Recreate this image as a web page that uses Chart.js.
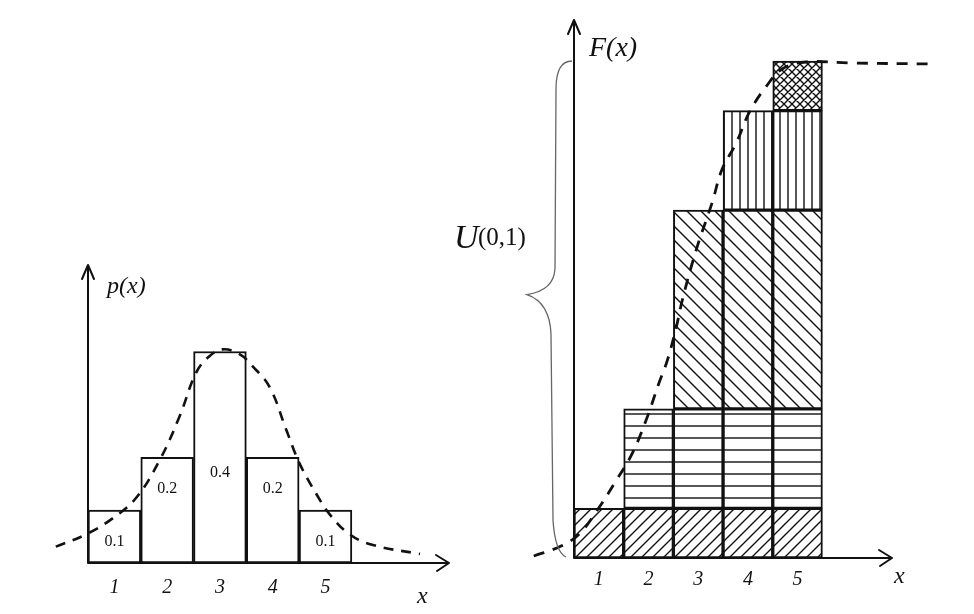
<!DOCTYPE html>
<html>
<head>
<meta charset="utf-8">
<title>p(x) and F(x) sketch</title>
<script src="https://cdn.jsdelivr.net/npm/chart.js@4.4.1/dist/chart.umd.min.js"></script>
<style>
  html, body { margin: 0; padding: 0; background: #fff; }
  #wrap { position: relative; width: 974px; height: 614px; }
  #wrap canvas { position: absolute; left: 0; top: 0; }
</style>
</head>
<body>
<div id="wrap">
  <canvas id="pdf" width="974" height="614"></canvas>
  <canvas id="cdf" width="974" height="614"></canvas>
</div>
<script>
  /* ---------- data ---------- */

  const xValues = [1, 2, 3, 4, 5];
  const tickLabels = ['1', '2', '3', '4', '5'];
  const probs = [0.1, 0.2, 0.4, 0.2, 0.1];
  const probLabels = ['0.1', '0.2', '0.4', '0.2', '0.1'];

  // dashed density curve over the bars (left)
  const pdfCurveX = [-0.11, 0.46, 0.96, 1.41, 1.85, 2.23, 2.55, 2.80, 3.05, 3.37, 3.62, 3.94, 4.26, 4.51, 4.83, 5.08, 5.46, 5.90, 6.79];
  const pdfCurveY = [0.031, 0.054, 0.084, 0.123, 0.193, 0.276, 0.360, 0.391, 0.404, 0.395, 0.372, 0.333, 0.251, 0.188, 0.130, 0.092, 0.054, 0.034, 0.017];

  // dashed distribution curve over the stacked steps (right)
  const cdfCurveX = [-0.31, 0.24, 0.60, 0.96, 1.35, 1.67, 1.95, 2.21, 2.38, 2.56, 2.68, 2.96, 3.28, 3.48, 3.77, 4.03, 4.37, 4.69, 5.18, 6.04, 7.72];
  const cdfCurveY = [0.004, 0.024, 0.048, 0.095, 0.156, 0.210, 0.277, 0.352, 0.398, 0.465, 0.519, 0.620, 0.715, 0.782, 0.836, 0.897, 0.949, 0.984, 0.998, 0.996, 0.994];

  /* ---------- helpers ---------- */

  const INK = '#111';
  const HAND = "'Liberation Serif', 'DejaVu Serif', serif";

  function toPoints(xs, ys) {
    return xs.map((x, i) => ({ x: x, y: ys[i] }));
  }

  function hatch(kind, size) {
    const c = document.createElement('canvas');
    c.width = size;
    c.height = size;
    const g = c.getContext('2d');
    g.fillStyle = '#fff';
    g.fillRect(0, 0, size, size);
    g.strokeStyle = INK;
    g.lineWidth = 1.4;
    g.beginPath();
    if (kind === 'h') { g.moveTo(0, size / 2); g.lineTo(size, size / 2); }
    if (kind === 'v') { g.moveTo(size / 2, 0); g.lineTo(size / 2, size); }
    if (kind === '/' || kind === 'x') {
      g.moveTo(-1, size + 1); g.lineTo(size + 1, -1);
      g.moveTo(-1, 1); g.lineTo(1, -1);
      g.moveTo(size - 1, size + 1); g.lineTo(size + 1, size - 1);
    }
    if (kind === '\\' || kind === 'x') {
      g.moveTo(-1, -1); g.lineTo(size + 1, size + 1);
      g.moveTo(size - 1, -1); g.lineTo(size + 1, 1);
      g.moveTo(-1, size - 1); g.lineTo(1, size + 1);
    }
    g.stroke();
    return g.createPattern(c, 'repeat');
  }

  // one fill per step of F(x): bottom to top
  const layerFills = [hatch('/', 11), hatch('h', 12), hatch('\\', 14), hatch('v', 8), hatch('x', 8)];

  /* ---------- plugin: hand-drawn axes, arrows and labels ---------- */

  const sketchAxes = {
    id: 'sketchAxes',
    afterDatasetsDraw(chart, args, opts) {
      const ctx = chart.ctx;
      const a = chart.chartArea;
      ctx.save();
      ctx.strokeStyle = INK;
      ctx.lineWidth = 2;
      ctx.lineCap = 'round';
      ctx.lineJoin = 'round';
      ctx.beginPath();
      ctx.moveTo(a.left, a.bottom); ctx.lineTo(a.right, a.bottom);
      ctx.moveTo(a.left, a.bottom); ctx.lineTo(a.left, a.top);
      ctx.moveTo(a.right - 13, a.bottom - 8); ctx.lineTo(a.right, a.bottom); ctx.lineTo(a.right - 12, a.bottom + 8);
      ctx.moveTo(a.left - 6, a.top + 14); ctx.lineTo(a.left, a.top); ctx.lineTo(a.left + 6, a.top + 14);
      ctx.stroke();

      ctx.fillStyle = INK;
      ctx.textBaseline = 'alphabetic';
      ctx.font = 'italic ' + opts.yFont + 'px ' + HAND;
      ctx.fillText(opts.yTitle, a.left + opts.yDx, a.top + opts.yDy);
      ctx.font = 'italic 24px ' + HAND;
      ctx.fillText('x', a.right + opts.xDx, a.bottom + opts.xDy);
      ctx.restore();
    }
  };

  /* ---------- plugin: value written inside each bar ---------- */

  const barValues = {
    id: 'barValues',
    afterDatasetsDraw(chart) {
      const meta = chart.getDatasetMeta(1);
      const yScale = chart.scales.y;
      const ctx = chart.ctx;
      ctx.save();
      ctx.fillStyle = INK;
      ctx.font = '16px ' + HAND;
      ctx.textAlign = 'center';
      ctx.textBaseline = 'middle';
      meta.data.forEach((bar, i) => {
        const v = Math.min(probs[i] - 0.06, 0.17);
        ctx.fillText(probLabels[i], bar.x, yScale.getPixelForValue(v));
      });
      ctx.restore();
    }
  };

  /* ---------- plugin: brace marking U(0,1) on the F(x) axis ---------- */

  const uniformBrace = {
    id: 'uniformBrace',
    afterDatasetsDraw(chart) {
      const ctx = chart.ctx;
      const y = chart.scales.y;
      const L = chart.chartArea.left;
      const top = y.getPixelForValue(1);
      const bot = y.getPixelForValue(0);
      const tip = y.getPixelForValue(0.53);
      ctx.save();
      ctx.strokeStyle = '#666';
      ctx.lineWidth = 1.3;
      ctx.beginPath();
      ctx.moveTo(L - 2, top);
      ctx.quadraticCurveTo(L - 18, top, L - 18, top + 28);
      ctx.lineTo(L - 19, tip - 26);
      ctx.quadraticCurveTo(L - 20, tip - 4, L - 47, tip);
      ctx.quadraticCurveTo(L - 24, tip + 8, L - 23, tip + 40);
      ctx.lineTo(L - 21, bot - 38);
      ctx.quadraticCurveTo(L - 19, bot - 6, L - 8, bot - 1);
      ctx.stroke();

      ctx.fillStyle = INK;
      ctx.font = 'italic 34px ' + HAND;
      ctx.fillText('U', L - 120, tip - 47);
      ctx.font = '25px ' + HAND;
      ctx.fillText('(0,1)', L - 96, tip - 50);
      ctx.restore();
    }
  };

  function xTicks(scale) {
    scale.ticks = xValues.map((v) => ({ value: v }));
  }

  // fixed x range without user bounds, so curve points outside it still draw
  function xRange(min, max) {
    return (scale) => {
      scale.min = min;
      scale.max = max;
    };
  }

  const tickFont = { family: HAND, size: 20, style: 'italic' };

  /* ---------- left: p(x) ---------- */

  new Chart(document.getElementById('pdf'), {
    type: 'bar',
    data: {
      datasets: [
        {
          type: 'line',
          data: toPoints(pdfCurveX, pdfCurveY),
          borderColor: INK,
          borderWidth: 2.6,
          borderDash: [10, 8],
          pointRadius: 0,
          tension: 0.4,
          fill: false,
          clip: false,
          order: 0,
        },
        {
          data: toPoints(xValues, probs),
          backgroundColor: '#fff',
          borderColor: INK,
          borderWidth: 2,
          borderSkipped: false,
          barPercentage: 1,
          categoryPercentage: 1,
          order: 1,
        },
      ],
    },
    options: {
      responsive: false,
      animation: false,
      layout: { padding: { left: 88, right: 525, top: 265, bottom: 1 } },
      scales: {
        x: {
          type: 'linear',
          offset: false,
          bounds: 'data',
          afterDataLimits: xRange(0.5, 7.34),
          afterBuildTicks: xTicks,
          grid: { display: false, drawTicks: false },
          border: { display: false },
          ticks: { color: INK, font: tickFont, padding: 13, callback: (v) => tickLabels[xValues.indexOf(v)] },
        },
        y: { display: false, min: 0, max: 0.5636 },
      },
      plugins: {
        legend: { display: false },
        tooltip: { enabled: false },
        sketchAxes: { yTitle: 'p(x)', yFont: 24, yDx: 19, yDy: 28, xDx: -32, xDy: 40 },
      },
    },
    plugins: [sketchAxes, barValues],
  });

  /* ---------- right: F(x) built from stacked steps ---------- */

  const stepDatasets = probs.map((p, k) => ({
    data: xValues.filter((x) => x >= xValues[k]).map((x) => ({ x: x, y: p })),
    backgroundColor: layerFills[k],
    borderColor: INK,
    borderWidth: 2,
    borderSkipped: false,
    barPercentage: 1,
    categoryPercentage: 1,
    order: 1,
  }));

  new Chart(document.getElementById('cdf'), {
    type: 'bar',
    data: {
      datasets: [
        {
          type: 'line',
          data: toPoints(cdfCurveX, cdfCurveY),
          borderColor: INK,
          borderWidth: 2.8,
          borderDash: [11, 9],
          pointRadius: 0,
          tension: 0.4,
          fill: false,
          clip: false,
          order: 0,
        },
      ].concat(stepDatasets),
    },
    options: {
      responsive: false,
      animation: false,
      layout: { padding: { left: 574, right: 82, top: 20, bottom: 12 } },
      scales: {
        x: {
          type: 'linear',
          offset: false,
          stacked: true,
          bounds: 'data',
          afterDataLimits: xRange(0.5, 6.9),
          afterBuildTicks: xTicks,
          grid: { display: false, drawTicks: false },
          border: { display: false },
          ticks: { color: INK, font: tickFont, padding: 10, callback: (v) => tickLabels[xValues.indexOf(v)] },
        },
        y: { display: false, stacked: true, min: 0, max: 1.0825 },
      },
      plugins: {
        legend: { display: false },
        tooltip: { enabled: false },
        sketchAxes: { yTitle: 'F(x)', yFont: 28, yDx: 15, yDy: 36, xDx: 2, xDy: 25 },
      },
    },
    plugins: [sketchAxes, uniformBrace],
  });
</script>
</body>
</html>
